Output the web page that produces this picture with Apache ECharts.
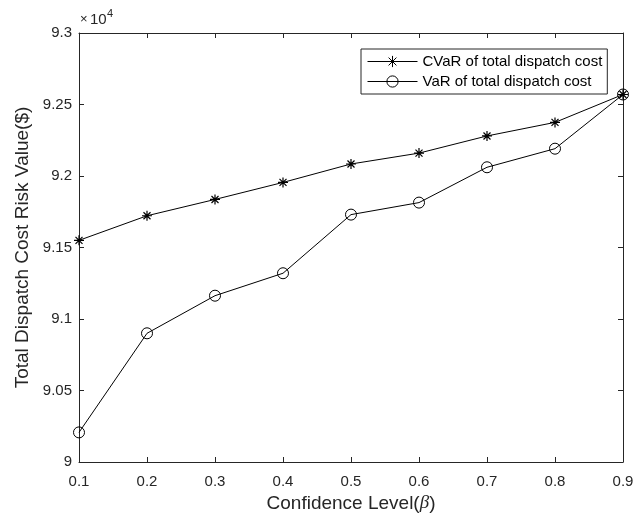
<!DOCTYPE html>
<html>
<head>
<meta charset="utf-8">
<script src="https://cdn.jsdelivr.net/npm/echarts@6/dist/echarts.min.js"></script>
<style>html,body{margin:0;padding:0;background:#fff;}#c{width:644px;height:518px;}</style>
</head>
<body>
<div id="c"></div>
<script>
var categories = ['0.1','0.2','0.3','0.4','0.5','0.6','0.7','0.8','0.9'];
var cvarValues = [91550, 91722, 91836, 91955, 92084, 92160, 92280, 92375, 92570];
var varValues  = [90207, 90900, 91163, 91320, 91730, 91814, 92061, 92191, 92570];
var yTicks = { min: 90000, max: 93000, interval: 500 };
var seriesNames = ['CVaR of total dispatch cost', 'VaR of total dispatch cost'];

var AX = '#262626';
var FONT = 'Liberation Sans, Arial, sans-serif';
var starPath = 'path://M0,5L10,5M5,0L5,10M1.5,1.5L8.5,8.5M8.5,1.5L1.5,8.5';

var chart = echarts.init(document.getElementById('c'), null, {renderer: 'canvas'});
chart.setOption({
  animation: false,
  backgroundColor: '#fff',
  textStyle: { fontFamily: FONT },
  grid: { left: 79, right: 21, top: 33, bottom: 56, containLabel: false },
  legend: {
    orient: 'vertical',
    left: 361, top: 49,
    padding: [5, 5, 5, 6],
    itemGap: 5,
    itemWidth: 50,
    itemHeight: 14,
    borderColor: AX, borderWidth: 1,
    backgroundColor: '#fff',
    lineStyle: { width: 1, color: '#000' },
    itemStyle: { borderWidth: 1 },
    textStyle: { fontFamily: FONT, fontSize: 15, color: '#000' },
    data: seriesNames
  },
  xAxis: [{
    type: 'category', data: categories, boundaryGap: false,
    name: 'Confidence Level({b|β})',
    nameLocation: 'middle', nameGap: 29,
    nameTextStyle: { fontFamily: FONT, fontSize: 19, color: '#262626',
      rich: { b: { fontFamily: 'Liberation Serif', fontStyle: 'italic', fontSize: 19, color: '#262626' } } },
    axisLine: { lineStyle: { color: AX, width: 1 } },
    axisTick: { inside: true, length: 5, lineStyle: { color: AX } },
    axisLabel: { color: '#262626', fontSize: 15, margin: 12, fontFamily: FONT },
    splitLine: { show: false }
  }, {
    type: 'category', data: categories, boundaryGap: false, position: 'top',
    axisLine: { lineStyle: { color: AX, width: 1 } },
    axisTick: { inside: true, length: 5, lineStyle: { color: AX } },
    axisLabel: { show: false }, splitLine: { show: false }
  }],
  yAxis: [{
    type: 'value', min: yTicks.min, max: yTicks.max, interval: yTicks.interval,
    name: 'Total Dispatch Cost Risk Value($)',
    nameLocation: 'middle', nameGap: 44,
    nameTextStyle: { fontFamily: FONT, fontSize: 19, color: '#262626' },
    axisLine: { show: true, lineStyle: { color: AX, width: 1 } },
    axisTick: { show: true, inside: true, length: 5, lineStyle: { color: AX } },
    axisLabel: { color: '#262626', fontSize: 15, margin: 7, fontFamily: FONT,
      formatter: function (v) { return String(parseFloat((v / 10000).toFixed(2))); } },
    splitLine: { show: false }
  }, {
    type: 'value', min: yTicks.min, max: yTicks.max, interval: yTicks.interval, position: 'right',
    axisLine: { show: true, lineStyle: { color: AX, width: 1 } },
    axisTick: { show: true, inside: true, length: 5, lineStyle: { color: AX } },
    axisLabel: { show: false }, splitLine: { show: false }
  }],
  graphic: [
    { type: 'text', left: 80, top: 13, style: { text: '×', fontFamily: FONT, fontSize: 13, fill: '#262626' } },
    { type: 'text', left: 90, top: 12, style: { text: '10', fontFamily: FONT, fontSize: 15, fill: '#262626' } },
    { type: 'text', left: 107, top: 8, style: { text: '4', fontFamily: FONT, fontSize: 11, fill: '#262626' } }
  ],
  series: [{
    name: seriesNames[0], type: 'line', data: cvarValues,
    xAxisIndex: 0, yAxisIndex: 0,
    symbol: starPath, symbolSize: 10,
    lineStyle: { color: '#000', width: 1 },
    itemStyle: { color: 'rgba(0,0,0,0)', borderColor: '#000', borderWidth: 1.2 },
    emphasis: { disabled: true }
  }, {
    name: seriesNames[1], type: 'line', data: varValues,
    xAxisIndex: 0, yAxisIndex: 0,
    symbol: 'circle', symbolSize: 11,
    lineStyle: { color: '#000', width: 1 },
    itemStyle: { color: 'rgba(0,0,0,0)', borderColor: '#000', borderWidth: 1 },
    emphasis: { disabled: true }
  }]
});
</script>
</body>
</html>
